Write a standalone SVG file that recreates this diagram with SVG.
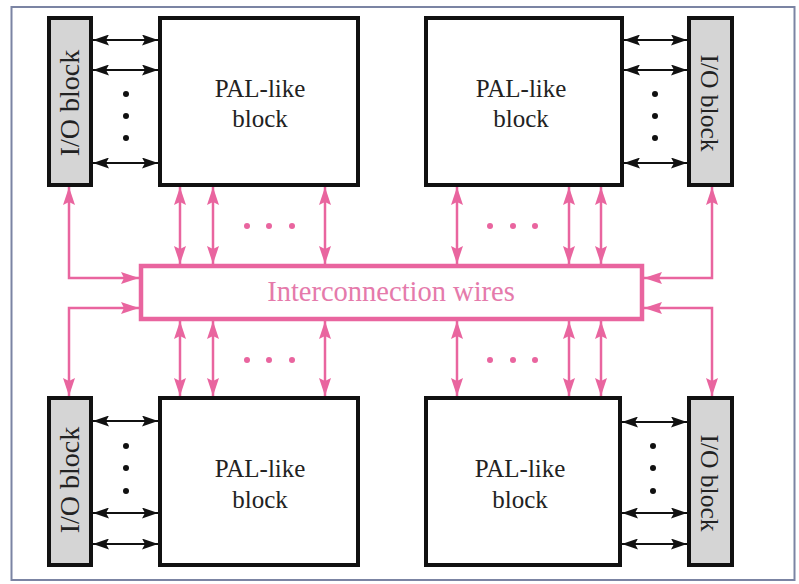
<svg xmlns="http://www.w3.org/2000/svg" width="799" height="584" viewBox="0 0 799 584">
<defs>
<marker id="ab" viewBox="0 0 16 11" refX="16" refY="5.5" markerWidth="16" markerHeight="11" markerUnits="userSpaceOnUse" orient="auto-start-reverse"><path d="M0,0 L16,5.5 L0,11 L3,5.5 Z" fill="#111"/></marker>
<marker id="ap" viewBox="0 0 18 12" refX="18" refY="6" markerWidth="18" markerHeight="12" markerUnits="userSpaceOnUse" orient="auto-start-reverse"><path d="M0,0 L18,6 L0,12 L3,6 Z" fill="#e9659f"/></marker>
</defs>
<style>
.io{fill:#d5d5d5;stroke:#111;stroke-width:4}
.pal{fill:#fff;stroke:#111;stroke-width:4}
.t{font-family:"Liberation Serif","Times New Roman",serif;fill:#222;font-size:25px;text-anchor:middle}
.iot{font-family:"Liberation Serif","Times New Roman",serif;fill:#222;text-anchor:middle}
.bk{stroke:#111;stroke-width:2.2;fill:none;marker-start:url(#ab);marker-end:url(#ab)}
.pk{stroke:#e9659f;stroke-width:2.5;fill:none;marker-start:url(#ap);marker-end:url(#ap)}
.dot{fill:#111}
.pd{fill:#e9659f}
</style>
<rect width="799" height="584" fill="#fff"/>
<rect x="11.5" y="7" width="783" height="573" fill="none" stroke="#7b84a3" stroke-width="2"/>

<g id="io-tl"><rect class="io" x="49" y="18" width="42" height="167"/><text class="iot" font-size="28" transform="translate(79,103) rotate(-90)">I/O block</text></g>
<g id="pal-tl"><rect class="pal" x="160" y="18" width="198" height="167"/><text class="t" x="260" y="97">PAL-like</text><text class="t" x="260" y="127">block</text></g>
<g id="pal-tr"><rect class="pal" x="426" y="18" width="196" height="167"/><text class="t" x="521" y="97">PAL-like</text><text class="t" x="521" y="127">block</text></g>
<g id="io-tr"><rect class="io" x="689" y="18" width="43" height="167"/><text class="iot" font-size="25.5" transform="translate(701,103) rotate(90)">I/O block</text></g>

<g id="io-bl"><rect class="io" x="49" y="398" width="42" height="167"/><text class="iot" font-size="28" transform="translate(79,480) rotate(-90)">I/O block</text></g>
<g id="pal-bl"><rect class="pal" x="160" y="398" width="198" height="167"/><text class="t" x="260" y="477">PAL-like</text><text class="t" x="260" y="508">block</text></g>
<g id="pal-br"><rect class="pal" x="426" y="398" width="194" height="167"/><text class="t" x="520" y="477">PAL-like</text><text class="t" x="520" y="508">block</text></g>
<g id="io-br"><rect class="io" x="689" y="398" width="43" height="167"/><text class="iot" font-size="25.5" transform="translate(701,483) rotate(90)">I/O block</text></g>

<g id="interconnect"><rect x="141" y="266" width="501" height="53" fill="#fff" stroke="#e9659f" stroke-width="4.5"/><text x="391" y="301" font-family="'Liberation Serif','Times New Roman',serif" font-size="28.5" fill="#e57aab" text-anchor="middle">Interconnection wires</text></g>

<g id="connectors">
<path class="bk" d="M93,40 H158"/><path class="bk" d="M93,70 H158"/><path class="bk" d="M93,163 H158"/>
<path class="bk" d="M624,40 H687"/><path class="bk" d="M624,70 H687"/><path class="bk" d="M624,163 H687"/>
<path class="bk" d="M93,421 H158"/><path class="bk" d="M93,513 H158"/><path class="bk" d="M93,544 H158"/>
<path class="bk" d="M622,422 H687"/><path class="bk" d="M622,513 H687"/><path class="bk" d="M622,544 H687"/>

<path class="pk" d="M180,187 V264"/><path class="pk" d="M213,187 V264"/><path class="pk" d="M325,187 V264"/>
<path class="pk" d="M457,187 V264"/><path class="pk" d="M569,187 V264"/><path class="pk" d="M601,187 V264"/>
<path class="pk" d="M180,321 V396"/><path class="pk" d="M213,321 V396"/><path class="pk" d="M325,321 V396"/>
<path class="pk" d="M457,321 V396"/><path class="pk" d="M569,321 V396"/><path class="pk" d="M601,321 V396"/>
<path class="pk" d="M69,187 V278 H139"/>
<path class="pk" d="M139,308 H69 V396"/>
<path class="pk" d="M712,187 V278 H644"/>
<path class="pk" d="M644,308 H712 V396"/>
</g>

<g id="dots">
<circle class="dot" cx="126" cy="94" r="3"/><circle class="dot" cx="126" cy="116" r="3"/><circle class="dot" cx="126" cy="138" r="3"/>
<circle class="dot" cx="655" cy="94" r="3"/><circle class="dot" cx="655" cy="116" r="3"/><circle class="dot" cx="655" cy="138" r="3"/>
<circle class="dot" cx="126" cy="446" r="3"/><circle class="dot" cx="126" cy="468" r="3"/><circle class="dot" cx="126" cy="491" r="3"/>
<circle class="dot" cx="653" cy="446" r="3"/><circle class="dot" cx="653" cy="468" r="3"/><circle class="dot" cx="653" cy="491" r="3"/>
<circle class="pd" cx="247" cy="226" r="3"/><circle class="pd" cx="269" cy="226" r="3"/><circle class="pd" cx="292" cy="226" r="3"/>
<circle class="pd" cx="490" cy="226" r="3"/><circle class="pd" cx="513" cy="226" r="3"/><circle class="pd" cx="535" cy="226" r="3"/>
<circle class="pd" cx="247" cy="360" r="3"/><circle class="pd" cx="269" cy="360" r="3"/><circle class="pd" cx="292" cy="360" r="3"/>
<circle class="pd" cx="490" cy="360" r="3"/><circle class="pd" cx="513" cy="360" r="3"/><circle class="pd" cx="535" cy="360" r="3"/>
</g>
</svg>
